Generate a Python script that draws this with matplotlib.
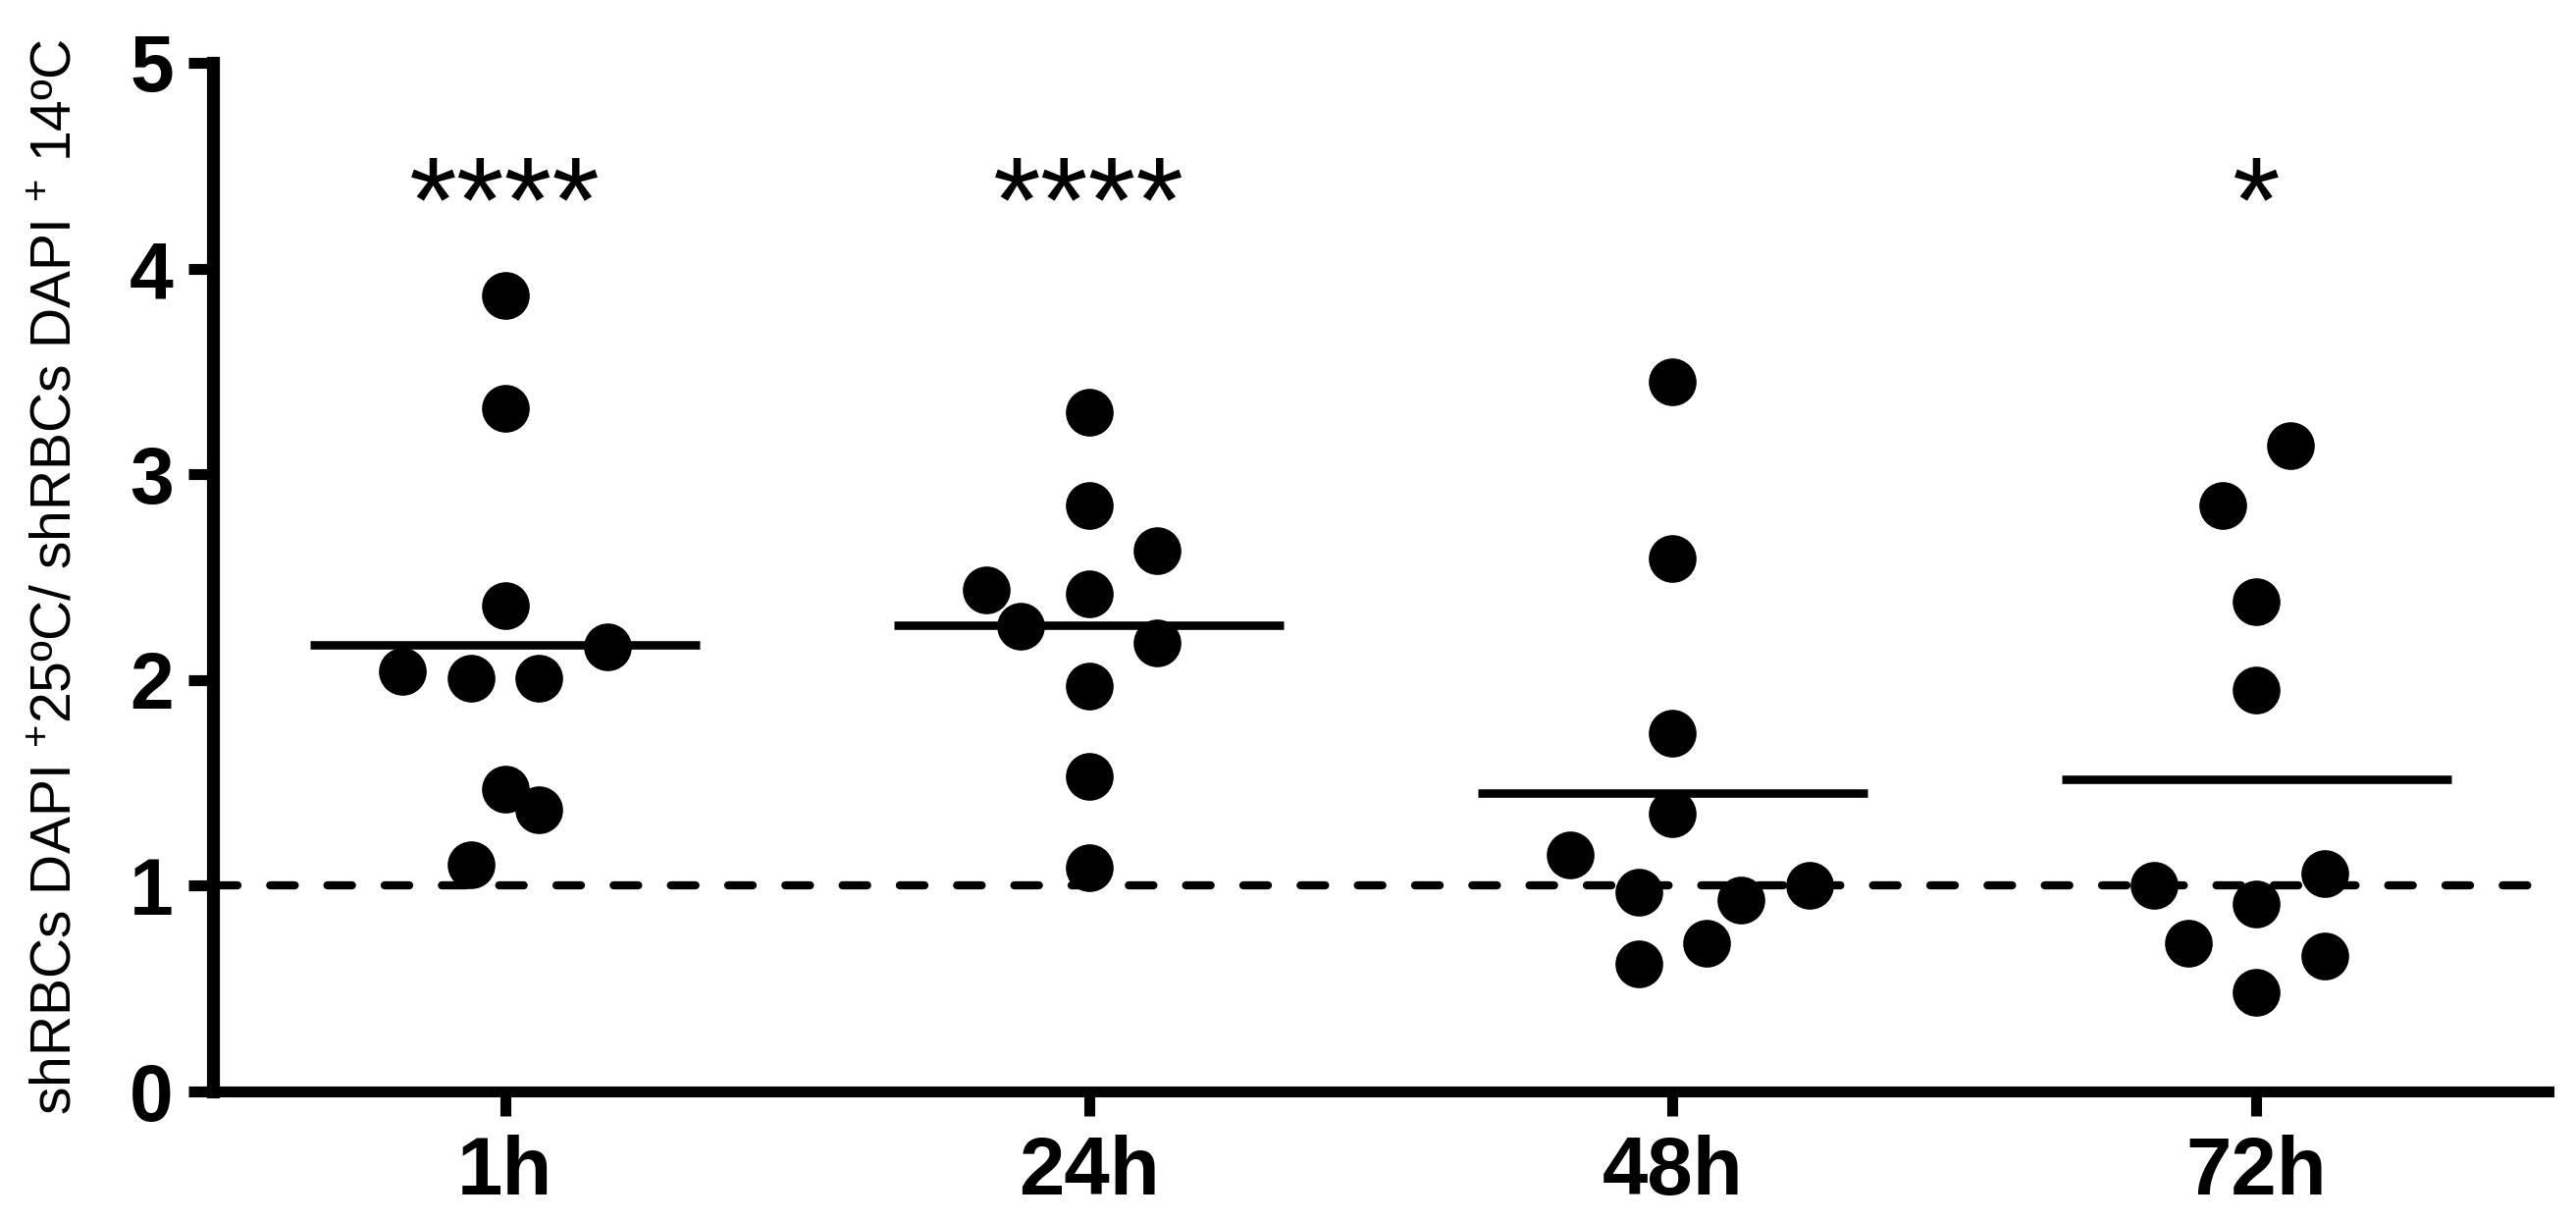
import matplotlib
matplotlib.use("Agg")
import matplotlib.pyplot as plt
import numpy as np

plt.rcParams['font.family'] = ['Liberation Sans', 'DejaVu Sans']
plt.rcParams['mathtext.fontset'] = 'custom'
plt.rcParams['mathtext.rm'] = 'Liberation Sans'
plt.rcParams['mathtext.it'] = 'Liberation Sans:italic'
plt.rcParams['mathtext.bf'] = 'Liberation Sans:bold'

# ---- data ----
categories = ["1h", "24h", "48h", "72h"]
values_1h = [3.87, 3.32, 2.36, 2.16, 2.04, 2.01, 2.01, 1.47, 1.37, 1.10]
values_24h = [3.30, 2.85, 2.63, 2.44, 2.42, 2.26, 2.18, 1.97, 1.53, 1.09]
values_48h = [3.45, 2.59, 1.74, 1.35, 1.15, 0.97, 0.93, 1.00, 0.72, 0.62]
values_72h = [3.14, 2.85, 2.38, 1.95, 1.06, 1.00, 0.91, 0.72, 0.66, 0.48]
# horizontal scatter steps (in marker-spacing units)
jitter_1h = [0, 0, 0, 1.5, -1.5, -0.5, 0.5, 0, 0.5, -0.5]
jitter_24h = [0, 0, 1, -1.5, 0, -1, 1, 0, 0, 0]
jitter_48h = [0, 0, 0, 0, -1.5, -0.5, 1, 2, 0.5, -0.5]
jitter_72h = [0.5, -0.5, 0, 0, 1, -1.5, 0, -1, 1, 0]
significance = ["****", "****", "", "*"]
baseline = 1.0
y_ticks = [0, 1, 2, 3, 4, 5]
y_label = r"shRBCs DAPI $^{+}$25ºC/ shRBCs DAPI $^{+}$ 14ºC"

groups = [values_1h, values_24h, values_48h, values_72h]
jitters = [jitter_1h, jitter_24h, jitter_48h, jitter_72h]

fig = plt.figure(figsize=(26.25, 12.44), dpi=100)
ax = fig.add_axes([0.0827, 0.1061, 0.9893 - 0.0827, 0.9486 - 0.1061])

step = 0.117
half_w = 0.333
for i, (vals, jit) in enumerate(zip(groups, jitters)):
    xs = i + np.array(jit) * step
    ax.plot(xs, vals, 'o', color='black', markersize=35, markeredgewidth=0,
            zorder=3, clip_on=False)
    m = np.mean(vals)
    ax.plot([i - half_w, i + half_w], [m, m], color='black', lw=6.2,
            solid_capstyle='butt', zorder=2)
    if significance[i]:
        ax.text(i, 4.13, significance[i], ha='center', va='baseline',
                fontsize=90, color='black')

ax.axhline(baseline, color='black', lw=6, linestyle=(0, (3.0, 4.0)),
           dash_capstyle='round', zorder=1)

ax.set_xlim(-0.5, 3.5)
ax.set_ylim(0, 5)
ax.set_xticks(range(len(categories)))
ax.set_xticklabels(categories, fontsize=60, fontweight='bold')
ax.set_yticks(y_ticks)
ax.set_yticklabels([str(t) for t in y_ticks], fontsize=58, fontweight='bold')

for s in ['top', 'right']:
    ax.spines[s].set_visible(False)
ax.spines['left'].set_linewidth(9.5)
ax.spines['bottom'].set_linewidth(8)
ax.spines['left'].set_capstyle('projecting')
ax.tick_params(axis='y', length=18, width=8, pad=11, direction='out')
ax.tick_params(axis='x', length=18, width=8, pad=14, direction='out')

ax.set_ylabel(y_label, fontsize=41)
ax.yaxis.label.set_verticalalignment('baseline')
ax.yaxis.set_label_coords(-0.061, 0.5)

fig.savefig("out.png", dpi=100)
